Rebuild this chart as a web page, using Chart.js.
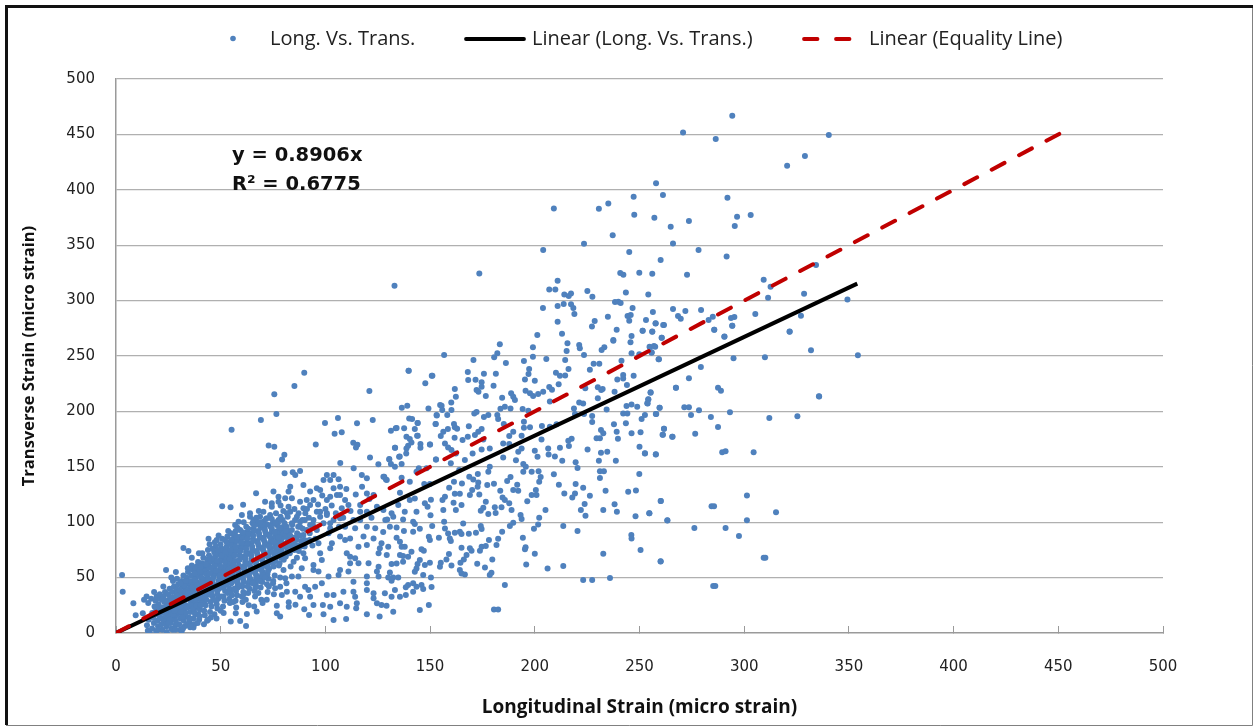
<!DOCTYPE html>
<html><head><meta charset="utf-8">
<style>html,body{margin:0;padding:0;background:#fff}#w{position:absolute;left:0;top:0;width:1254px;height:726px}</style>
<script src="https://cdn.jsdelivr.net/npm/chart.js@4"></script>
</head><body><div id="w"><canvas id="c" width="1254" height="726"></canvas></div>
<script>
const tickValues=[0,50,100,150,200,250,300,350,400,450,500];
const seriesNames=["Long. Vs. Trans.","Linear (Long. Vs. Trans.)","Linear (Equality Line)"];
const equationLines=["y = 0.8906x","R² = 0.6775"];
const xTitle="Longitudinal Strain (micro strain)";
const yTitle="Transverse Strain (micro strain)";
const trendLine=[[0,0],[354,315.3]];
const equalityLine=[[0,0],[450.5,450.5]];
const upperPoints=[[294.3,466.9],[270.8,451.8],[286.4,445.8],[340.4,449.4],[329,430.5],[320.5,421.7],[257.9,405.8],[247.2,393.8],[261.2,395.3],[292,392.9],[235.1,387.7],[230.6,382.9],[209.1,383.2],[247.5,377.5],[257.1,374.8],[273.6,371.8],[296.6,375.7],[303.1,377.2],[264.9,366.7],[295.5,367.3],[237.2,358.9],[223.5,351.3],[266,351.6],[204,345.6],[245.1,343.8],[278.2,345.6],[291.6,339.9],[260.1,336.6],[240.8,324.9],[242.3,323.4],[249.9,325.2],[256.1,324.3],[272.7,323.4],[210.9,317.9],[309.3,318.9],[206.9,310.1],[209.8,310.1],[214.1,305.6],[216.2,304.1],[217.3,306.5],[225.1,308.6],[227.5,303.5],[243.5,307.4],[254.2,305.6],[328.6,306.2],[311.4,302.6],[312.6,312.5],[334.3,332.1],[349.3,301.1],[238.3,298.7],[239.9,299],[241,297.8],[213.8,296.9],[210.9,295.1],[203.9,293.3],[217.3,296.6],[218.4,293.3],[218.9,287.9],[246.7,293.3],[266,292.4],[271.9,290.6],[279.4,291.5],[256.4,289.7],[245.8,287],[244.3,286],[234.9,285.5],[268.4,286],[269.7,283.6],[305.3,287.9],[327.1,286.4],[295.3,285.2],[293.7,284.3],[285,285.5],[283,282.4],[210.9,280.9],[228.6,281.5],[227.3,276.7],[245.1,281.8],[253.1,282.4],[257.7,279.4],[261.7,277.9],[294.3,277.3],[239.1,273.7],[251.5,272.8],[256.1,271.9],[285.7,273.7],[321.7,271.9],[213,270.1],[201.2,268.9],[246.2,268],[260.6,266.5],[290.5,267.4],[237.5,264.4],[133,313.5],[173.5,324.5]];
const midPoints=[[183.3,260.5],[199.1,257.8],[215.6,261.4],[221.2,259.9],[221.5,256.9],[233.2,257.8],[231.9,255.4],[245.7,262.3],[237.5,263.8],[254.8,258.4],[257.5,258.4],[156.7,250.9],[182.1,252.4],[180.6,248.8],[215.2,254.5],[199.1,249.4],[205.5,247.3],[223.5,250.9],[246.2,252.4],[249.9,251.5],[255.8,253],[259.3,247],[170.7,246.4],[194.8,245.4],[186.2,243.6],[214.5,246.4],[228.1,243],[230.8,243],[241.4,245.7],[197.3,238.2],[197,233.7],[216.1,238.2],[210.1,234.9],[212,232.2],[214.5,232.5],[226.3,237.6],[139.7,236.7],[168,235.5],[175.7,234],[181.4,234],[150.8,232.2],[239.4,228.9],[242.2,232.8],[242.2,229.8],[247.2,232.2],[168.2,228.3],[171.7,228.6],[174.6,226.2],[195.3,228.9],[200,227.7],[147.7,225.3],[180.3,223.2],[174.6,222.3],[206.9,222],[208.2,219.6],[211.4,224.4],[224.1,220.8],[230.1,221.7],[232.4,220.2],[231.7,219.3],[244,223.8],[267.4,221.4],[161.8,220.2],[172.2,219.3],[173.1,217.8],[195.6,218.7],[197.7,216.3],[199.2,213.9],[201.6,215.7],[204,217.8],[188.7,216.3],[189.7,213.3],[190.5,210.2],[238.1,217.8],[255.3,217.2],[176.6,213.9],[162.3,213.3],[184.4,212.4],[230.1,211.8],[254.2,210.8],[253.9,207.2],[160.1,208.1],[207.2,209],[221.2,208.1],[223.1,207.2],[136.5,203.3],[139.1,205.1],[149.2,202.7],[155.5,205.1],[155.8,201.2],[160.2,201.2],[185.7,204.2],[183.6,202.4],[188.4,202.7],[194.2,202.1],[196.9,200.6],[218.7,202.7],[234.3,201.8],[243.8,204.8],[246.2,206.3],[248.9,204.2],[259.6,203.3],[172.2,199.4],[171.1,198.2],[177.8,196.7],[175.7,194.9],[153.1,196.7],[158.2,196.7],[182.1,196.7],[182.5,193.1],[219.2,197.6],[223.5,197.6],[242.2,198.2],[244.2,198.2],[257.8,197.6],[252.6,196.7],[251,193.1],[140,193.7],[141.4,193.1],[227.4,195.8],[227.4,190.4],[144,189.5],[152.6,188.6],[161.4,188.6],[161.8,185.6],[162.9,184.4],[168.5,186.5],[185.2,188.6],[194.8,190.7],[194.8,185.3],[197.7,185.6],[203.4,186.8],[207.2,186.2],[210.4,188.3],[237.8,188.3],[243.5,189.2],[133.6,184.7],[131.3,182.6],[137.6,184.7],[142.7,184.1],[158.5,184.1],[156.3,181.7],[155.1,177.8],[174.6,184.1],[173,181.7],[171.4,178.7],[189.7,181.7],[187.8,177.8],[231.6,183.2],[232.7,180.2],[231.1,175.7],[229.5,175.7],[239.1,181.7],[239.7,175.4],[246.2,180.2],[250.5,181.1],[261.7,184.4],[261.2,179],[265.8,177.2],[143.8,178],[138.7,177.1],[140.3,175.1],[141.1,172],[139.5,169],[138.7,166.6],[161.7,176.3],[165.5,174.1],[168,177.2],[175.4,174.7],[193.7,178],[203.2,174.7],[217.6,175.4],[216,173.6],[145.4,170.6],[145.4,167.2],[149.9,170.2],[133.2,167.2],[157.1,171.1],[158.6,167.5],[160.2,165.1],[184.9,171.1],[187.8,170.5],[193.7,166.6],[192.1,163.6],[206.4,166.6],[212,167.2],[216.3,168.7],[225.2,165.7],[250,168.1],[178.5,166.6],[174.6,165.7],[200,164.5],[231.6,162.7],[234.6,163.6],[252.6,162.1],[257.8,161.2],[162.3,162.1],[170.3,162.1],[138.6,162.1],[135.2,159.1],[201.3,159.1],[206.6,161.2],[209.6,159.4],[184.9,158.5],[130.5,156.7],[152.8,156.7],[159.9,153.1],[166.6,156.1],[191,155.8],[213.1,155.5],[230.6,155.5],[238.7,155.5],[219.5,154],[131.3,152.5],[133.2,150.1],[136.4,152.5],[178.5,150.1],[177.8,145.6],[194.5,152.5],[195.7,150.1],[194.5,145.6],[220.4,148.9],[144.6,148.6],[143.5,145.6],[148.3,148.6],[163.9,147.1],[172.8,143.5],[168.7,141.1],[170.6,138.6],[198.5,145.6],[201.8,145.9],[231.1,145.9],[233,145.9],[231.1,139.9],[249.9,143.5],[209.1,143.2],[128.1,141.1],[128.9,138.6],[136.4,140.2],[188.4,140.8],[186.8,137.1],[202.8,140.8],[202.1,136.5],[140.3,136.5],[147.2,134.4],[149.9,134.4],[161.4,136.5],[165.2,135],[159.1,131.1],[173,135.9],[172.7,132],[170.1,129],[169,124.5],[177.3,133.5],[180.5,134.7],[191.6,133.8],[189.7,129],[192.1,128.4],[211.5,133.8],[219.5,134.4],[223.1,131.1],[233.8,128.4],[244.6,127.5],[248.3,128.7],[183.5,128.4],[200.5,129],[198.5,124.5],[200.8,124.5],[214.1,126],[219.2,126],[217.9,122.4],[226.3,123.9],[161.8,125.7],[164.2,125.7],[157.1,123],[155.9,120],[184.6,122.4],[185.7,120],[187.8,117],[173.5,125.1],[135.6,126.6],[142.7,121.5],[140.3,120],[150.4,120.3],[147.5,117],[148.8,114],[161.2,117.6],[165,115.5],[176.6,118.5],[175.4,113.1],[174.2,110.4],[196.4,118.8],[260.2,119.1],[223.8,116.4],[222,111],[224.2,105.9],[238.1,116.1],[239.2,109.5],[232.7,111],[134.8,115.5],[131.6,108],[132.4,104.9],[137.9,109.5],[143.5,109.5],[156.3,111],[162.3,111],[180.9,113.4],[184.1,113.4],[188.9,111],[150.2,106.2],[177.8,107.4],[181.3,108.3],[193.2,106.5],[193.7,102.9],[205.1,111],[202.1,104.1],[248.1,105.3],[254.7,108],[263.3,101.6],[137.1,102.5],[141.9,100.4],[142.7,98.3],[129.5,102.5],[156.7,100.4],[165.8,98.9],[189.7,99.5],[188.1,96.5],[201.6,98],[199.6,94.1],[213.6,96.5],[220.4,92],[130.8,96],[134,95.3],[127.6,91.1],[145.1,94.1],[141.9,91.4],[137.5,92],[151,96.5],[157.1,94.4],[158.6,89.9],[174.2,96.5],[174.6,93.8],[164.2,91.4],[161.8,90.5],[168.5,89.6],[171.9,90.5],[165,89.3],[184.4,91.4],[159.4,85.4],[159.9,83],[149.4,86.9],[149.9,83.9],[154.2,86],[134,86],[135.6,82.4],[178.1,83.9],[182.5,85.1],[194.3,86],[246.1,88.4],[246.2,85.4],[126.8,80.9],[126,76.4],[136.4,77.9],[137.9,77.9],[130,77.9],[145.9,75.5],[147,74.3],[181.7,79.4],[165,77],[169,76.4],[169.8,74.3],[174.6,77.9],[176.6,78.5],[173.8,74.3],[195.6,77.3],[195.3,75.5],[250.5,74.9],[141.1,73.4],[139.5,68.8],[135.6,70.4],[137.1,69.4],[159,71.3],[157.8,66.4],[155.1,63.4],[154.7,59.8],[167.4,70.4],[166.1,66.4],[164.5,63.4],[200,71.6],[232.7,71.6],[179.7,66.4],[172.5,62.5],[260.1,64.6],[145.1,65.8],[149.9,63.4],[147.5,61.3],[144,62.2],[137.1,64.3],[134,62.8],[131.6,62.2],[160.2,61],[176.2,59.2],[195.9,61.9],[206.1,58.3],[213.6,60.4],[143.5,58.3],[142.7,55.3],[146.7,52.3],[164.2,56.8],[165,53.8],[166.6,52.9],[179.3,54.4],[178.5,52.3],[130.8,54.7],[130,50.2],[132.4,50.2],[134.8,50.2],[131.6,47.2],[150.4,50.2],[223.1,47.8],[227.4,47.8],[235.9,49.6],[141.9,44.8],[139.5,43.3],[143.5,41.8],[145.9,43.3],[150.7,41.5],[185.7,43.3],[133.2,38.8],[138.4,41.2],[141.9,37.3],[146.7,39.7],[128.4,35.8],[131.6,32.7],[135.6,32.7],[138.4,34.3],[149.4,25.2],[126.8,25.2],[129.2,24.6],[132.4,19.2],[145.1,20.7],[180.5,21.3],[182.5,21.3]];
const rightPoints=[[321.7,272],[331.9,255.1],[354.3,250.6],[309.9,248.8],[294.9,247.9],[285.7,273.8],[290.6,267.5],[294.3,277.4],[279.3,240.1],[273.6,229.9],[267.4,221.4],[287.5,221.4],[288.9,218.7],[335.7,213.6],[255.3,216.9],[254.2,210.9],[253.7,207.3],[259.6,203.4],[271.4,203.7],[273.6,203.7],[278.4,201],[293.2,199.2],[258,197.7],[274.6,196.8],[284.1,195],[312,194.1],[325.4,195.6],[287.5,185.9],[261.7,184.4],[261,179],[265.6,177.2],[276.6,179.9],[252.6,162.2],[257.8,161.3],[289.5,163.1],[291.1,164],[304.5,163.1],[260.1,119.1],[301.3,124],[284.4,114.3],[285.6,114.3],[254.7,108],[315.2,108.9],[263.3,101.7],[301.3,101.7],[276.2,94.8],[291.1,94.8],[297.5,87.5],[260.1,64.7],[310.1,68],[309.3,68],[259.1,247],[255.8,253.3],[255,257.8],[256.9,259],[260.6,266.5],[256.1,272],[251.5,272.9],[257.7,279.5],[261.3,278],[285.2,42.4],[286.2,42.4],[335.8,213.4]];
const scatterLowPoints=[[2.9,52.4],[3.2,37.3],[8.3,26.8],[9.4,16],[12.8,17.8],[23.9,56.9],[32.2,76.7],[34.3,58.4],[50.7,114.3],[54.7,113.4],[60.7,115.8],[66.9,126.1],[72.6,150.7],[72.9,169.3],[75.6,168.1],[95.4,170.2],[113.3,171.7],[115.3,169.9],[114.6,167.5],[133.3,167.2],[80.4,160.9],[79.3,156.7],[80.5,144.1],[84.4,145],[87.9,146.2],[85.6,142.6],[107.1,153.4],[121.3,158.5],[125.3,152.2],[130.5,157],[113.5,148.6],[117.4,142.6],[119.8,139.6],[127.7,141.1],[129.3,138.1],[89.9,234.9],[85.2,222.9],[75.6,215.4],[76.6,197.6],[69.2,192.2],[55.2,183.5],[121,218.4],[139.8,236.7],[151.1,232.2],[99.8,189.5],[106,194],[115.1,189.2],[122.6,192.2],[104.4,179.9],[107.8,181.1],[134,185],[153.2,196.4],[152.7,188.6],[154.8,205.7],[144.1,178.1],[144.1,189.5],[150,170.2],[135.5,159.4],[152.8,156.7],[103.9,11.8],[109.9,12.6],[125.9,14.8],[119.8,16.9],[99.1,16.9],[92.2,16.3],[89.9,21.4],[78.4,14.8],[76.8,17.8],[62.1,6.3],[54.8,10.3],[59.3,10.8],[35.4,5.1],[31.4,1.8],[67.2,19.3],[62.5,17.2],[57.2,17.8],[76.8,24.7],[82.5,27.7],[82.5,23.8],[85.7,25.6],[94.3,25.3],[98.8,25.3],[102.3,23.8],[107,26.8],[110.2,23.8],[115,26.8],[114.7,22.3],[124.6,26.8],[103.9,34.3],[100.7,34.3],[98.3,44.8],[95.1,41.8],[90.3,41.8],[91.9,38.8],[87.9,32.8],[92.7,32.8],[81.6,37.3],[85.6,37.3],[79.2,34.3],[108.6,37.3],[113.4,37.3],[114.2,32.8],[119.8,38.8],[123,35.8],[123,31.3],[113.4,46.3],[119.8,44.8],[101.5,50.9],[106.3,52.4],[107,56.9],[111,55.4],[94.3,56.9],[96.7,55.4],[94.3,61.4],[84,50.9],[87.1,50.9],[88.7,58.4],[80,56.9],[80.8,49.4],[78.4,41.8],[76,40.3],[111.8,68.9],[114.2,67.4],[110.2,71.9],[115.8,62.9],[111.8,62.9],[109.4,83.9],[111.8,85.4],[97.5,71.9],[98.3,65.9],[96.7,80.9],[103.1,80.9],[102.3,76.4],[89.5,71.9],[90.3,67.4],[84.8,64.4],[115.8,77.9],[119.8,79.4],[118.2,87],[119.8,96],[123,85.4],[123.8,94.5],[125.4,71.9],[129.3,70.4],[125.4,59.9],[120.6,62.9],[124.6,55.4],[114.2,94.5],[109.4,96],[125.4,50.9],[119.8,50.9],[103.9,102],[107,103.5],[113.4,102],[116.6,102],[102.3,94.5],[107,87],[116.6,109.5],[119.8,109.5],[127.7,111],[128.6,102],[109.4,120],[111,115.5],[107.8,112.5],[107,124.6],[102.3,123],[105.5,124.6],[100.7,120],[119.8,126],[123,124.6],[116.6,115.5],[124.6,114],[95.9,130.6],[97.5,129.1],[92.7,127.6],[94.3,120],[91.1,120],[87.9,118.5],[100.7,142.6],[103.9,142.6],[99.1,138.1],[102.3,138.1],[106.3,138.7],[107,132.1],[103.9,130.6],[89.5,133.6],[83.2,132.1],[82.4,127.6],[84,121.6],[80.8,121.6],[77.6,123],[77.6,118.5],[75.2,127.6],[71.2,118.5],[74.4,117],[74.4,114],[83.2,109.5],[81.6,108],[95.9,109.5],[94.3,102],[89.5,112.5],[92.7,115.5],[100.7,108],[97.5,109.5],[60.1,106.5],[64,105],[58.5,100.5],[56.9,97.5],[59.3,93],[70.4,109.5],[68.8,105],[72,103.5],[73.6,106.5],[67.2,100.5],[70.4,100.5],[76.8,97.5],[80,96],[78.4,90],[84,99],[86.4,105],[87.9,100.5],[91.1,93],[92.7,97.5],[87.9,96],[89.5,88.5],[86.4,87],[95.9,93],[99.1,99],[102.3,99],[97.5,105],[100.7,106.5]];
const densePoints=[[15.2,2],[14.8,7],[16.1,0.5],[15.6,12],[17.3,18],[15.4,27],[16.8,31],[17.2,4],[18.1,9],[17.7,14],[18.4,24],[18.9,29],[19.4,33],[19.2,1.5],[20.1,6],[19.7,11],[20.4,16],[20.8,21],[20.3,26],[21.2,31],[20.9,35],[22.1,3],[21.7,8],[22.4,13],[22.9,18],[22.2,23],[23.1,28],[22.7,33],[23.4,37],[24.3,1],[24.1,6],[23.7,11],[24.6,15],[25.1,20],[24.4,25],[25.3,30],[24.9,35],[25.6,40],[26.4,4],[26.1,9],[26.7,13],[26.2,18],[27.1,22],[26.6,27],[27.4,32],[26.9,37],[27.7,42],[27.2,47],[28.4,7],[28.1,12],[28.8,16],[28.3,21],[29.2,25],[28.7,30],[29.4,35],[28.9,39],[29.7,44],[29.1,49],[30.6,3],[30.2,8],[30.9,13],[30.4,18],[31.3,23],[30.8,28],[31.6,33],[31.1,37],[31.9,42],[31.4,47],[32.2,52],[32.8,6],[32.4,11],[33.1,15],[32.6,20],[33.4,25],[32.9,30],[33.7,35],[33.2,40],[34.1,45],[33.6,50],[34.4,55],[35.1,10],[34.7,14],[35.4,19],[34.9,24],[35.8,28],[35.2,33],[36.1,38],[35.6,43],[36.4,47],[35.9,52],[36.7,57],[36.2,61],[37.4,8],[37.1,13],[37.8,17],[37.3,22],[38.1,27],[37.6,31],[38.4,36],[37.9,41],[38.7,46],[38.2,50],[39,55],[38.5,60],[39.2,64],[39.7,12],[39.3,17],[40.1,21],[39.6,26],[40.4,30],[39.9,35],[40.8,40],[40.2,44],[41.1,49],[40.6,54],[41.4,58],[40.9,63],[41.7,68],[41.2,72],[42.4,16],[42.1,20],[42.8,25],[42.3,29],[43.1,34],[42.6,38],[43.4,43],[42.9,48],[43.7,52],[43.2,57],[44.1,61],[43.6,66],[44.4,70],[43.9,75],[44.7,80],[45.3,14],[44.9,19],[45.6,24],[45.2,28],[46.1,33],[45.5,37],[46.4,42],[45.9,46],[46.7,51],[46.2,55],[47.1,60],[46.5,64],[47.4,69],[46.9,73],[47.7,78],[47.2,82],[48.4,22],[48.1,26],[48.8,31],[48.3,35],[49.1,40],[48.6,44],[49.4,49],[48.9,53],[49.7,58],[49.2,62],[50.1,67],[49.5,71],[50.4,76],[49.9,80],[50.7,85],[51.4,18],[51.1,24],[51.8,29],[51.3,33],[52.1,38],[51.6,42],[52.4,47],[51.9,51],[52.7,56],[52.2,60],[53.1,65],[52.5,69],[53.4,74],[52.9,78],[53.7,82],[53.2,87],[54.4,27],[54.1,31],[54.8,36],[54.3,40],[55.1,45],[54.6,49],[55.4,54],[54.9,58],[55.7,63],[55.2,67],[56.1,72],[55.5,76],[56.4,80],[55.9,85],[56.7,89],[57.4,23],[57.1,29],[57.8,34],[57.3,38],[58.1,43],[57.6,47],[58.4,52],[57.9,56],[58.7,61],[58.2,65],[59.1,70],[58.5,74],[59.4,78],[58.9,83],[59.7,87],[60.4,28],[60.1,33],[60.8,37],[60.3,42],[61.1,46],[60.6,51],[61.4,55],[60.9,60],[61.7,64],[61.2,69],[62.1,73],[61.5,78],[62.4,82],[61.9,87],[62.7,91],[62.2,96],[63.4,25],[63.1,36],[63.8,40],[63.3,45],[64.1,49],[63.6,54],[64.4,58],[63.9,63],[64.7,67],[64.2,72],[65.1,76],[64.5,81],[65.4,85],[64.9,90],[65.7,94],[65.2,99],[66.4,33],[66.1,38],[66.8,43],[66.3,47],[67.1,52],[66.6,56],[67.4,61],[66.9,65],[67.7,70],[67.2,74],[68.1,79],[67.5,83],[68.4,88],[67.9,92],[68.7,97],[69.4,30],[69.1,41],[69.8,46],[69.3,50],[70.1,55],[69.6,59],[70.4,64],[69.9,68],[70.7,73],[70.2,77],[71.1,82],[70.5,86],[71.4,91],[70.9,95],[72.4,37],[72.1,44],[72.8,49],[72.3,53],[73.1,58],[72.6,62],[73.4,67],[72.9,71],[73.7,76],[73.2,80],[74.1,85],[73.5,89],[74.4,94],[74.9,99],[75.4,35],[75.1,47],[75.8,52],[75.3,60],[76.1,65],[75.6,69],[76.4,74],[75.9,78],[76.7,83],[76.2,87],[77.1,92],[77.6,102],[78.4,50],[78.1,63],[78.8,68],[78.3,72],[79.1,77],[78.6,81],[79.4,86],[79.9,110],[81.4,45],[81.1,69],[81.8,74],[81.3,78],[82.1,83],[81.6,88],[82.4,92],[83.4,60],[84.1,76],[83.8,81],[84.6,86],[85.2,112],[86.4,68],[86.8,79],[87.3,74],[88.4,83],[90.1,78],[92.4,84],[93.8,79],[90.4,108],[92.1,104],[78.6,115],[82.4,114],[76.4,108],[74.4,103],[68.2,110],[65.6,102],[57.2,92],[48.1,84],[53.6,92],[44.2,85],[39.6,72],[36.2,68],[34.6,74],[28.6,55],[26.4,50],[22.6,42],[18.2,37],[14.6,33],[13.4,30]];
const coreFillPoints=[[18.6,19],[19.3,23],[20.9,13],[21.5,18],[22.8,10],[23.6,23],[24.2,29],[24.9,17],[25.7,12],[26.8,24],[27.3,17],[27.9,29],[28.6,11],[29.6,20],[30.3,34],[30.9,24],[31.7,15],[32.2,27],[32.9,37],[33.3,18],[34.2,31],[34.8,40],[35.3,13],[35.9,25],[36.3,35],[36.9,45],[37.4,19],[37.9,29],[38.3,39],[38.9,52],[39.4,23],[39.8,32],[40.3,42],[40.7,50],[41.3,27],[41.7,37],[42.2,46],[42.7,56],[43.2,30],[43.7,40],[44.2,49],[44.6,59],[45.1,65],[45.6,34],[46,44],[46.5,53],[47,62],[47.5,71],[47.9,29],[48.4,38],[48.9,47],[49.3,56],[49.8,65],[50.3,74],[50.7,41],[51.2,50],[51.7,59],[52.1,68],[52.6,77],[53,44],[53.5,53],[54,62],[54.4,71],[54.9,80],[55.4,34],[55.8,47],[56.3,56],[56.8,65],[57.2,74],[57.7,83],[58.2,41],[58.6,50],[59.1,59],[59.6,68],[60,77],[60.5,86],[61,35],[61.4,53],[61.9,62],[62.4,71],[62.8,80],[63.3,89],[63.8,47],[64.2,56],[64.7,65],[65.1,74],[65.6,83],[66.1,92],[66.6,41],[67,50],[67.5,59],[68,68],[68.4,77],[68.9,86],[69.4,95],[69.8,53],[70.3,62],[70.8,71],[71.2,80],[71.7,89],[72.2,98],[72.6,56],[73.1,65],[73.6,74],[74,83],[74.5,92],[75,45],[75.4,65],[75.9,72],[76.4,81],[76.8,90],[77.3,99],[77.8,61],[78.2,75],[78.7,84],[79.2,93],[79.6,102],[80.1,66],[80.6,78],[81,87],[81.5,96],[82,105],[83,72],[83.5,84],[84,93],[85,80],[85.5,102],[86.5,90],[87.2,108],[88.2,78],[89.2,94],[90.2,102],[91.2,112],[92.5,90],[94,98],[95.2,85],[96.5,116],[98.5,124],[100,112],[101.5,90],[103,115],[105,108],[106.5,96],[108.5,104],[110,130],[112,110],[114.5,125],[117.5,132],[121,121],[122,104],[38,58],[42.5,62],[46,76],[49,88],[52,84],[55,90],[58,95],[61,100],[64,108],[67,104],[70,98],[62,30],[68,36],[73,42],[56,28],[50,20],[44,12],[47,17],[66,24],[72,30],[70,27],[34,8],[37,5],[27,3],[24,8],[20,3],[42,8],[40,15]];
const coreFillMore=[[25.5,22],[26,32],[27,26],[28,20],[28.9,34],[29.9,27],[30.5,39],[31,19],[31.6,29],[32.4,43],[33,33],[33.9,23],[34.4,36],[35,47],[35.6,30],[36.2,41],[36.8,22],[37.3,34],[37.8,48],[38.4,25],[38.8,43],[39.5,37],[40,56],[40.5,25],[41,46],[41.5,33],[41.9,62],[42.6,42],[43,53],[43.6,35],[44,45],[44.5,54],[44.9,68],[45.4,40],[45.8,59],[46.3,49],[46.8,67],[47.3,40],[47.8,56],[48.2,65],[48.7,75],[49.1,44],[49.6,52],[50,60],[50.5,70],[51,45],[51.5,55],[52,64],[52.4,73],[52.9,82],[53.4,49],[53.8,58],[54.3,67],[54.8,75],[55.2,84],[55.7,52],[56.2,61],[56.6,70],[57.1,78],[57.6,87],[58,46],[58.5,56],[59,66],[59.4,74],[59.9,82],[60.4,91],[60.8,48],[61.3,58],[61.8,67],[62.2,76],[62.7,85],[63.2,94],[63.6,51],[64.1,60],[64.6,70],[65,78],[65.5,88],[66,97],[66.4,54],[66.9,62],[67.4,72],[67.8,81],[68.3,90],[68.8,100],[69.2,57],[69.7,66],[70.2,75],[70.6,84],[71.1,93],[71.6,103],[72,60],[72.5,69],[73,78],[73.4,87],[73.9,96],[74.4,64],[74.8,73],[75.3,82],[75.8,91],[76.2,100],[76.7,69],[77.2,78],[77.6,86],[78.1,95],[78.6,105],[79,73],[79.5,81],[80,90],[80.5,99],[81.2,92],[82.5,79],[83.2,88],[84.2,98],[85.2,75],[86,84],[87,96],[88,88],[89,102],[90,84],[46.8,30],[50.2,33],[53.4,36],[56.5,40],[59.6,43],[62.9,42],[65.3,45],[68.5,47],[71.2,50],[30.8,45],[33.4,47],[37.5,54],[40.5,60],[43,62],[22,30],[23.5,18],[25.2,9],[28.4,3],[32,4],[35.5,6],[39,9],[43.5,11],[48,13]];
const allPoints=upperPoints.concat(midPoints,rightPoints,scatterLowPoints,densePoints,coreFillPoints,coreFillMore).map(p=>({x:p[0],y:p[1]}));
const toXY=a=>a.map(p=>({x:p[0],y:p[1]}));
const FONT_LEGEND='"Open Sans"';
const deco={id:'deco',
 beforeDraw(ch){const c=ch.ctx;c.save();c.fillStyle='#fff';c.fillRect(0,0,1254,726);
  c.strokeStyle='#808080';c.lineWidth=1;c.beginPath();c.moveTo(1252.5,6);c.lineTo(1252.5,725.5);c.lineTo(6,725.5);c.stroke();
  c.fillStyle='#111';c.fillRect(5,5,1248,3);c.fillRect(5,5,3,720);c.restore();},
 afterDraw(ch){const c=ch.ctx;c.save();
  c.textBaseline='middle';c.textAlign='left';
  c.font='bold 19.5px "DejaVu Sans"';c.fillStyle='#111';
  c.fillText(equationLines[0],232,156);c.fillText(equationLines[1],232,185);
  c.font='20px '+FONT_LEGEND;c.fillStyle='#222';
  c.fillText(seriesNames[0],270,39);c.fillText(seriesNames[1],532,39);c.fillText(seriesNames[2],869,39);
  c.fillStyle='#4f81bd';c.beginPath();c.arc(233,38.5,2.8,0,Math.PI*2);c.fill();
  c.lineCap='round';c.lineWidth=3.8;c.strokeStyle='#000';c.beginPath();c.moveTo(466,39);c.lineTo(524,39);c.stroke();
  c.strokeStyle='#c00000';c.setLineDash([13.5,18.5]);c.beginPath();c.moveTo(804,39);c.lineTo(850,39);c.stroke();
  c.restore();}};
new Chart(document.getElementById('c'),{type:'scatter',
 data:{datasets:[
  {label:seriesNames[2],data:toXY(equalityLine),showLine:true,borderColor:'#c00000',borderWidth:4,borderDash:[14.5,16.46],borderCapStyle:'round',pointRadius:0,order:1},
  {label:seriesNames[1],data:toXY(trendLine),showLine:true,borderColor:'#000',borderWidth:4,pointRadius:0,order:2},
  {label:seriesNames[0],data:allPoints,showLine:false,pointRadius:3,pointBackgroundColor:'#4f81bd',pointBorderWidth:0,order:3}
 ]},
 options:{responsive:false,animation:false,
  layout:{padding:{top:79,right:91,left:0,bottom:0}},
  plugins:{legend:{display:false},tooltip:{enabled:false}},
  scales:{
   x:{type:'linear',min:0,max:500,afterFit(s){s.height=93},afterBuildTicks(s){s.ticks=tickValues.map(v=>({value:v}))},
    grid:{drawOnChartArea:false,tickLength:-7,color:'#9a9a9a',lineWidth:1},border:{color:'#9a9a9a',width:1.5},
    ticks:{padding:32,maxRotation:0,autoSkip:false,color:'#222',font:{family:'DejaVu Sans',size:15}},
    title:{display:true,text:xTitle,color:'#111',font:{family:'Open Sans',size:19,weight:'bold'},padding:{top:0,bottom:7}}},
   y:{type:'linear',min:0,max:500,afterFit(s){s.width=116},afterBuildTicks(s){s.ticks=tickValues.map(v=>({value:v}))},
    grid:{color:ctx=>ctx.tick&&ctx.tick.value===0?'rgba(0,0,0,0)':'#b0b0b0',lineWidth:1.3,drawTicks:false},border:{color:'#9a9a9a',width:1.5},
    ticks:{padding:21,autoSkip:false,color:'#222',font:{family:'DejaVu Sans',size:15}},
    title:{display:true,text:yTitle,color:'#111',font:{family:'Open Sans',size:16.5,weight:'bold'},padding:{top:19,bottom:0}}}
  }},
 plugins:[deco]});
</script></body></html>
